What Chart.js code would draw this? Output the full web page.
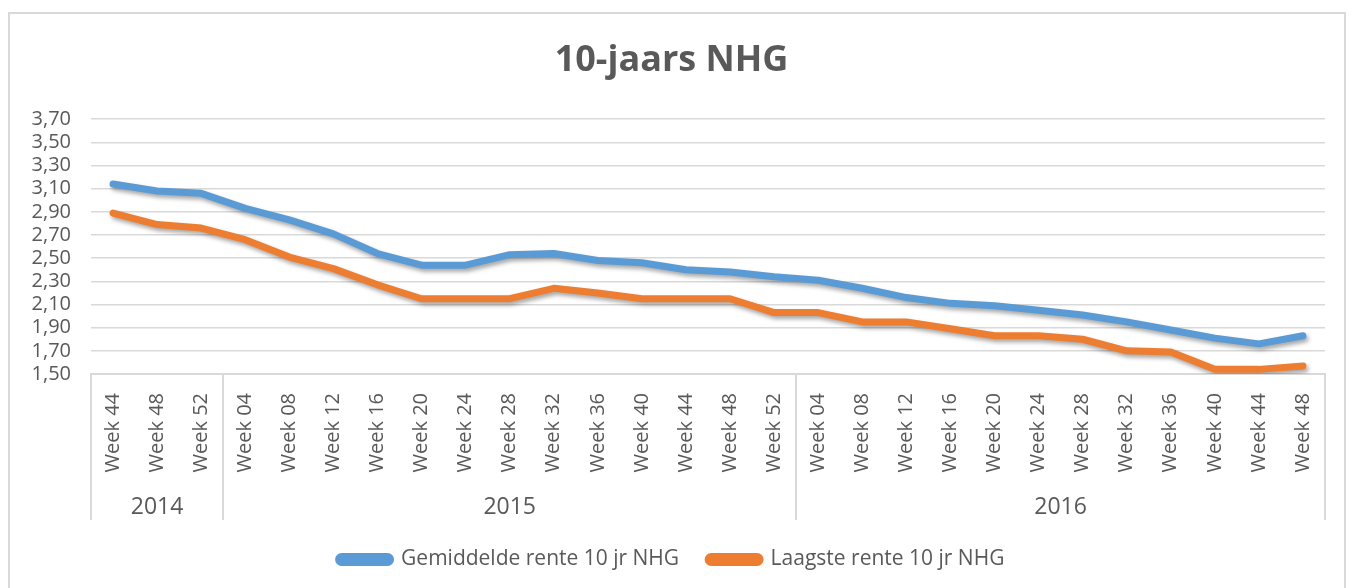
<!DOCTYPE html>
<html>
<head>
<meta charset="utf-8">
<script src="https://cdn.jsdelivr.net/npm/chart.js@4.4.1/dist/chart.umd.min.js"></script>
<style>
  html, body { margin: 0; padding: 0; background: #fff; }
  #wrap { position: absolute; left: 0; top: 0; width: 1353px; height: 588px; }
</style>
</head>
<body>
<div id="wrap"><canvas id="chart"></canvas></div>
<script>
// category groups (multi-level axis)
const years = ['2014', '2015', '2016'];
const weeks2014 = ['Week 44', 'Week 48', 'Week 52'];
const weeks2015 = ['Week 04', 'Week 08', 'Week 12', 'Week 16', 'Week 20', 'Week 24', 'Week 28',
                   'Week 32', 'Week 36', 'Week 40', 'Week 44', 'Week 48', 'Week 52'];
const weeks2016 = ['Week 04', 'Week 08', 'Week 12', 'Week 16', 'Week 20', 'Week 24',
                   'Week 28', 'Week 32', 'Week 36', 'Week 40', 'Week 44', 'Week 48'];

// rates in %
const gemiddeldeRente = [3.14, 3.08, 3.06, 2.93, 2.83, 2.71, 2.54, 2.44, 2.44, 2.53, 2.54, 2.48, 2.46, 2.40,
                         2.38, 2.34, 2.31, 2.24, 2.16, 2.11, 2.09, 2.05, 2.01, 1.95, 1.88, 1.81, 1.76, 1.83];
const laagsteRente    = [2.89, 2.79, 2.76, 2.66, 2.51, 2.41, 2.27, 2.15, 2.15, 2.15, 2.24, 2.20, 2.15, 2.15,
                         2.15, 2.03, 2.03, 1.95, 1.95, 1.89, 1.83, 1.83, 1.80, 1.70, 1.69, 1.54, 1.54, 1.57];

const yTicks = { min: 1.5, max: 3.7, step: 0.2 };

const weekGroups = [weeks2014, weeks2015, weeks2016];
const labels = weekGroups.flat();

const FONT = "'Open Sans', 'Noto Sans', sans-serif";
const GREY = '#595959';
const LINE = '#D9D9D9';

// shadow under the lines, like the Excel original
const shadowPlugin = {
    id: 'shadow',
    beforeDatasetsDraw(chart) {
        const ctx = chart.ctx;
        ctx.save();
        ctx.shadowColor = 'rgba(0, 0, 0, 0.35)';
        ctx.shadowBlur = 4;
        ctx.shadowOffsetX = 2;
        ctx.shadowOffsetY = 3;
    },
    afterDatasetsDraw(chart) {
        chart.ctx.restore();
    }
};

// second axis row with the years + outer border
const yearRowPlugin = {
    id: 'yearRow',
    afterDraw(chart) {
        const ctx = chart.ctx;
        const xs = chart.scales.x;
        const band = xs.getPixelForValue(1) - xs.getPixelForValue(0);
        const top = xs.top;
        const bottom = xs.bottom;

        ctx.save();
        ctx.strokeStyle = LINE;
        ctx.lineWidth = 2;
        ctx.fillStyle = GREY;
        ctx.font = '23px ' + FONT;
        ctx.textAlign = 'center';
        ctx.textBaseline = 'middle';

        let start = 0;
        weekGroups.forEach((g, i) => {
            const left = xs.getPixelForValue(start) - band / 2;
            const right = xs.getPixelForValue(start + g.length - 1) + band / 2;
            ctx.beginPath();
            ctx.moveTo(Math.round(left), top);
            ctx.lineTo(Math.round(left), bottom);
            ctx.moveTo(Math.round(right), top);
            ctx.lineTo(Math.round(right), bottom);
            ctx.stroke();
            ctx.fillText(years[i], (left + right) / 2, bottom - 13);
            start += g.length;
        });

        // chart frame
        ctx.strokeRect(9, 13, 1336, 620);
        ctx.restore();
    }
};

new Chart(document.getElementById('chart').getContext('2d'), {
    type: 'line',
    data: {
        labels: labels,
        datasets: [
            {
                label: 'Gemiddelde rente 10 jr NHG',
                data: gemiddeldeRente,
                borderColor: '#5B9BD5',
                backgroundColor: '#5B9BD5',
                borderWidth: 7,
                pointRadius: 0,
                tension: 0,
                borderJoinStyle: 'round',
                borderCapStyle: 'round'
            },
            {
                label: 'Laagste rente 10 jr NHG',
                data: laagsteRente,
                borderColor: '#ED7D31',
                backgroundColor: '#ED7D31',
                borderWidth: 7,
                pointRadius: 0,
                tension: 0,
                borderJoinStyle: 'round',
                borderCapStyle: 'round'
            }
        ]
    },
    options: {
        responsive: true,
        maintainAspectRatio: false,
        animation: false,
        layout: { padding: { left: 18, right: 28, top: 0, bottom: 8 } },
        plugins: {
            title: {
                display: true,
                text: '10-jaars NHG',
                color: GREY,
                font: { family: FONT, size: 36, weight: 'bold' },
                padding: { top: 39, bottom: 37 }
            },
            legend: {
                position: 'bottom',
                labels: {
                    color: GREY,
                    font: { family: FONT, size: 21 },
                    boxWidth: 52,
                    boxHeight: 6,
                    useBorderRadius: true,
                    borderRadius: 3,
                    padding: 29
                }
            },
            tooltip: { enabled: false }
        },
        scales: {
            x: {
                offset: true,
                grid: { display: false },
                border: { display: true, color: LINE, width: 2 },
                ticks: {
                    color: GREY,
                    font: { family: FONT, size: 20 },
                    minRotation: 90,
                    maxRotation: 90,
                    autoSkip: false,
                    padding: 11
                },
                afterFit(scale) { scale.height = 146; }
            },
            y: {
                min: yTicks.min,
                max: yTicks.max,
                grid: { color: LINE, lineWidth: 1.5, drawTicks: false },
                border: { display: false },
                ticks: {
                    stepSize: yTicks.step,
                    autoSkip: false,
                    color: GREY,
                    font: { family: FONT, size: 20 },
                    padding: 20,
                    callback: v => v.toFixed(2).replace('.', ',')
                },
                afterFit(scale) { scale.width = 73; }
            }
        }
    },
    plugins: [shadowPlugin, yearRowPlugin]
});
</script>
</body>
</html>
